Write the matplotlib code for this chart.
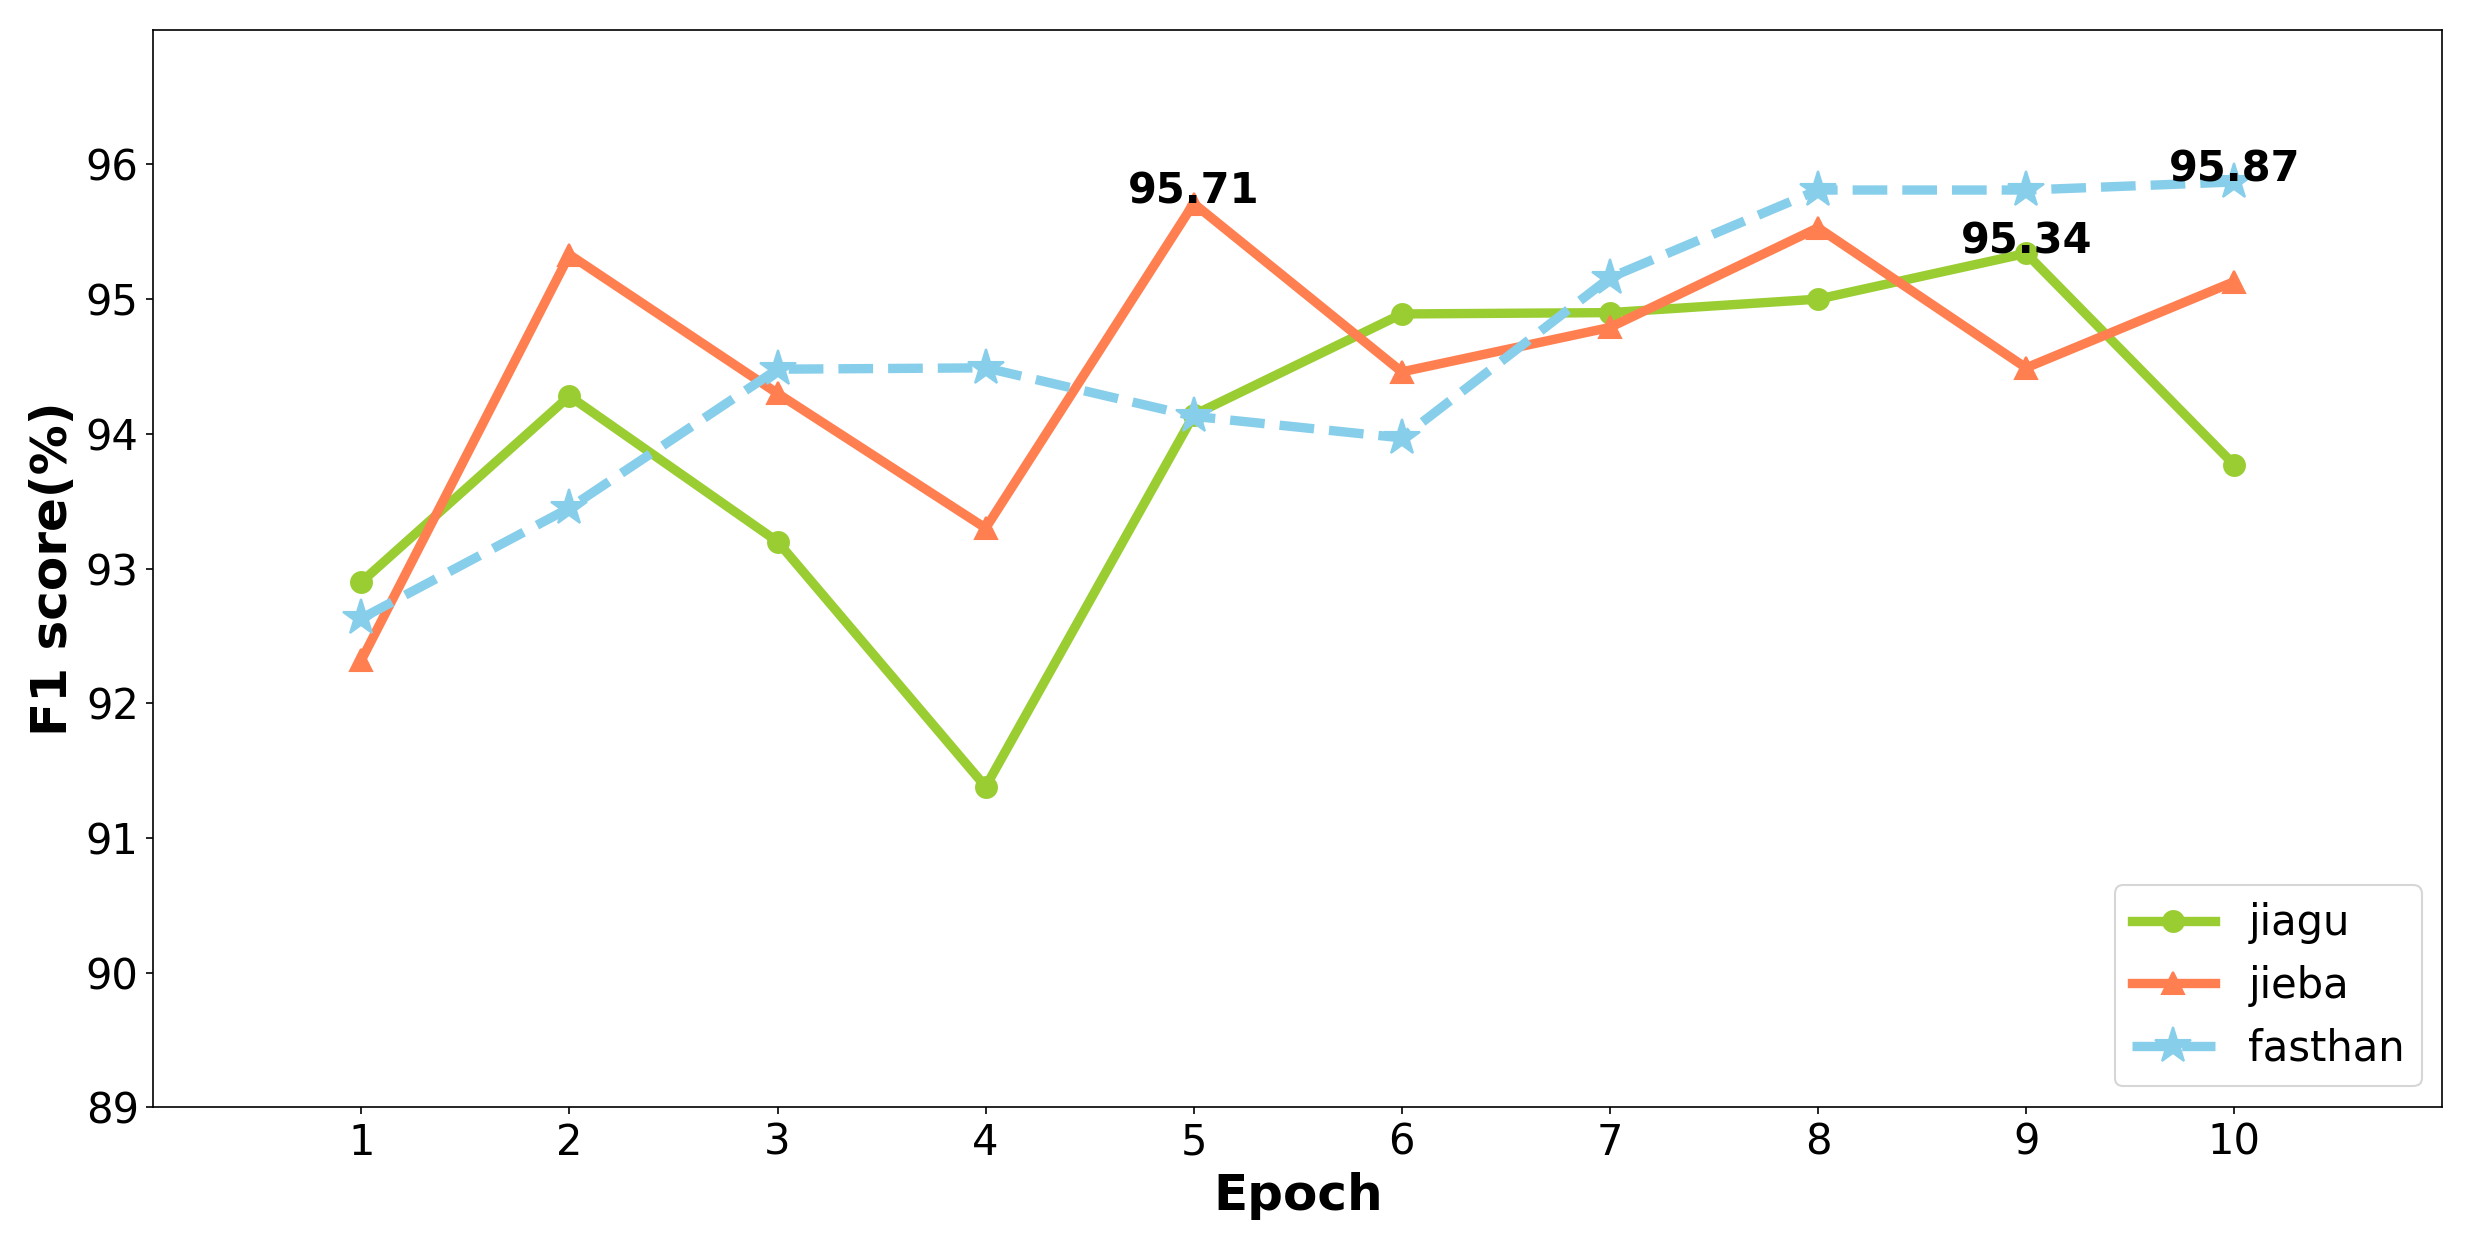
import matplotlib
matplotlib.use("Agg")
import matplotlib.pyplot as plt

epochs = list(range(1, 11))
jiagu = [92.90, 94.28, 93.20, 91.38, 94.14, 94.89, 94.90, 95.00, 95.34, 93.77]
jieba = [92.32, 95.33, 94.30, 93.30, 95.71, 94.46, 94.79, 95.53, 94.49, 95.13]
fasthan = [92.63, 93.45, 94.48, 94.49, 94.13, 93.97, 95.16, 95.81, 95.81, 95.87]

# (series, epoch index) of the labelled peaks
peak_labels = [("jieba", 5), ("jiagu", 9), ("fasthan", 10)]

fig, ax = plt.subplots(figsize=(16.48, 8.2667), dpi=150)
fig.subplots_adjust(left=0.062, right=0.988, bottom=0.107, top=0.976)

ax.plot(epochs, jiagu, color="yellowgreen", marker="o", markersize=10, linewidth=4.5, label="jiagu")
ax.plot(epochs, jieba, color="coral", marker="^", markersize=11, linewidth=4.5, label="jieba")
ax.plot(epochs, fasthan, color="skyblue", marker="*", markersize=18, linewidth=4.5, linestyle="--", label="fasthan")

series = {"jiagu": jiagu, "jieba": jieba, "fasthan": fasthan}
for name, ep in peak_labels:
    val = series[name][ep - 1]
    ax.text(ep, val, "%.2f" % val, ha="center", va="baseline", fontsize=20, fontweight="bold")

ax.set_xlim(0, 11)
ax.set_ylim(89, 97)
ax.set_xticks(epochs)
ax.set_yticks(range(89, 97))
ax.tick_params(labelsize=20)
ax.set_xlabel("Epoch", fontsize=24, fontweight="bold")
ax.set_ylabel("F1 score(%)", fontsize=24, fontweight="bold")
ax.legend(loc="lower right", fontsize=20)

fig.savefig("out.png", dpi=150)
